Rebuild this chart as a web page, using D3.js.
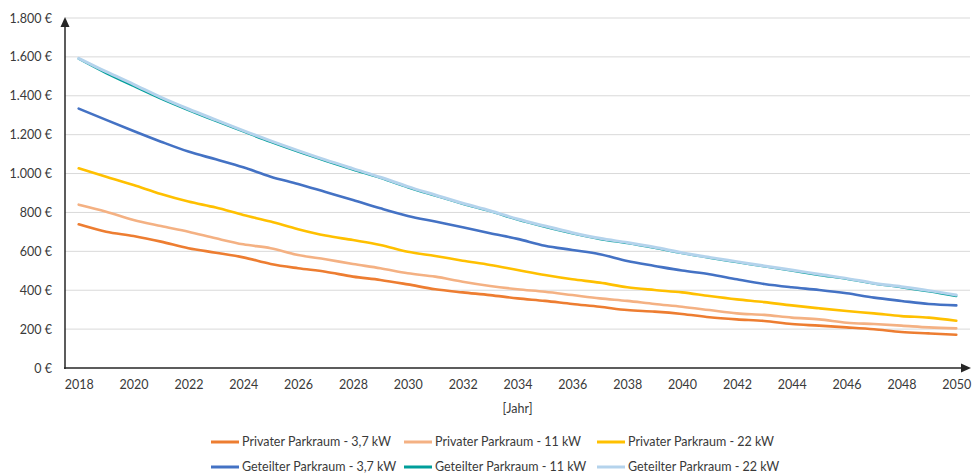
<!DOCTYPE html>
<html>
<head>
<meta charset="utf-8">
<script src="https://cdn.jsdelivr.net/npm/d3@7"></script>
<style>
  body { margin: 0; background: #fff; }
  text { font-family: Lato, "Open Sans", sans-serif; fill: #3a3a3a; }
</style>
</head>
<body>
<script>
// years on the x axis
const years = d3.range(2018, 2051)
const yTicks = [0, 200, 400, 600, 800, 1000, 1200, 1400, 1600, 1800]
const xTickYears = d3.range(2018, 2051, 2)

// cost per year [€]
const priv37 = [739, 701, 679, 650, 616, 593, 569, 535, 513, 495, 470, 453, 430, 405, 389, 375, 358, 345, 329, 315, 298, 290, 278, 261, 250, 242, 226, 218, 209, 199, 185, 178, 171]
const priv11 = [840, 804, 761, 730, 701, 667, 636, 616, 581, 559, 535, 513, 487, 470, 444, 422, 405, 392, 375, 358, 345, 329, 315, 298, 281, 273, 259, 250, 233, 226, 218, 209, 204]
const priv22 = [1027, 984, 941, 895, 856, 825, 787, 753, 714, 681, 658, 633, 598, 576, 552, 530, 504, 478, 456, 439, 415, 401, 389, 370, 353, 339, 322, 307, 293, 281, 267, 259, 243]
const geteilt37 = [1334, 1276, 1219, 1164, 1113, 1073, 1032, 984, 946, 905, 864, 821, 782, 753, 724, 693, 664, 629, 607, 585, 550, 525, 501, 482, 456, 432, 415, 401, 384, 362, 345, 329, 322]
const geteilt11 = [1590, 1516, 1450, 1385, 1326, 1270, 1216, 1162, 1112, 1065, 1020, 977, 929, 886, 844, 806, 763, 726, 692, 663, 642, 617, 590, 566, 544, 522, 500, 478, 458, 434, 415, 394, 370]
const geteilt22 = [1593, 1524, 1459, 1392, 1332, 1276, 1221, 1168, 1118, 1070, 1025, 981, 933, 890, 847, 809, 766, 730, 696, 667, 645, 621, 593, 569, 547, 525, 504, 482, 461, 436, 418, 398, 375]

const series = [
  { name: "Privater Parkraum - 3,7 kW", values: priv37, color: "#ED7D31", w: 2.6 },
  { name: "Privater Parkraum - 11 kW", values: priv11, color: "#F4B183", w: 2.6 },
  { name: "Privater Parkraum - 22 kW", values: priv22, color: "#FFC000", w: 2.6 },
  { name: "Geteilter Parkraum - 3,7 kW", values: geteilt37, color: "#4472C4", w: 2.6 },
  { name: "Geteilter Parkraum - 11 kW", values: geteilt11, color: "#009E9A", w: 2.2 },
  { name: "Geteilter Parkraum - 22 kW", values: geteilt22, color: "#B4D3EC", w: 3 }
]

var width = 972
var height = 476
// plot edges (window.top is reserved, so no bare "top")
var pLeft = 65, pRight = 970, pTop = 18, pBottom = 368

var svg = d3.select("body")
  .append("svg")
    .attr("width", width)
    .attr("height", height)

var x = d3.scalePoint()
  .domain(years)
  .range([pLeft, pRight])
  .padding(0.5)

var y = d3.scaleLinear()
  .domain([0, 1800])
  .range([pBottom, pTop])

const de = d3.formatLocale({ decimal: ",", thousands: ".", grouping: [3], currency: ["", " €"] })
const fmt = de.format(",.0f")

// gridlines
svg.append("g")
  .selectAll("line")
  .data(yTicks.filter(d => d > 0))
  .enter()
  .append("line")
    .attr("x1", pLeft)
    .attr("x2", pRight)
    .attr("y1", d => y(d))
    .attr("y2", d => y(d))
    .attr("stroke", "#d9d9d9")
    .attr("stroke-width", 1)

// y labels
var yAxis = d3.axisLeft(y).tickValues(yTicks).tickSize(0).tickPadding(13).tickFormat(d => fmt(d) + " €")
svg.append("g")
  .attr("transform", "translate(" + pLeft + ",0)")
  .call(yAxis)
  .call(g => g.select(".domain").remove())
  .selectAll("text")
    .style("font-size", "12.5px")
    .attr("fill", "#3a3a3a")

// x labels
var xAxis = d3.axisBottom(x).tickValues(xTickYears).tickSize(0).tickPadding(12)
svg.append("g")
  .attr("transform", "translate(0," + pBottom + ")")
  .call(xAxis)
  .call(g => g.select(".domain").remove())
  .selectAll("text")
    .style("font-size", "12.5px")
    .attr("fill", "#3a3a3a")

svg.append("text")
  .attr("x", (pLeft + pRight) / 2)
  .attr("y", 413)
  .attr("text-anchor", "middle")
  .style("font-size", "12.5px")
  .text("[Jahr]")

// lines
var line = d3.line()
  .x((d, i) => x(years[i]))
  .y(d => y(d))
  .curve(d3.curveMonotoneX)

svg.append("g")
  .selectAll("path")
  .data(series)
  .enter()
  .append("path")
    .attr("d", d => line(d.values))
    .attr("fill", "none")
    .attr("stroke", d => d.color)
    .attr("stroke-width", d => d.w)
    .attr("stroke-linejoin", "round")
    .attr("stroke-linecap", "round")

// axes with arrows
svg.append("line")
  .attr("x1", pLeft).attr("x2", pLeft)
  .attr("y1", pBottom + 1).attr("y2", pTop + 6)
  .attr("stroke", "#262626").attr("stroke-width", 1.5)
svg.append("path")
  .attr("d", `M${pLeft - 4.5},${pTop + 9}L${pLeft},${pTop - 1}L${pLeft + 4.5},${pTop + 9}Z`)
  .attr("fill", "#262626")

svg.append("line")
  .attr("x1", pLeft - 1).attr("x2", pRight - 6)
  .attr("y1", pBottom).attr("y2", pBottom)
  .attr("stroke", "#262626").attr("stroke-width", 1.5)
svg.append("path")
  .attr("d", `M${pRight - 9},${pBottom - 4.5}L${pRight + 1},${pBottom}L${pRight - 9},${pBottom + 4.5}Z`)
  .attr("fill", "#262626")

// legend
const legendCols = [242, 435, 628]
const legendRows = [442, 467]

var legend = svg.append("g")
  .selectAll("g")
  .data(series)
  .enter()
  .append("g")
    .attr("transform", (d, i) => "translate(" + legendCols[i % 3] + "," + legendRows[Math.floor(i / 3)] + ")")

legend.append("line")
  .attr("x1", -31).attr("x2", -3)
  .attr("y1", 0).attr("y2", 0)
  .attr("stroke", d => d.color)
  .attr("stroke-width", 3)

legend.append("text")
  .attr("x", 0)
  .attr("y", 4)
  .style("font-size", "12.5px")
  .text(d => d.name)
</script>
</body>
</html>
